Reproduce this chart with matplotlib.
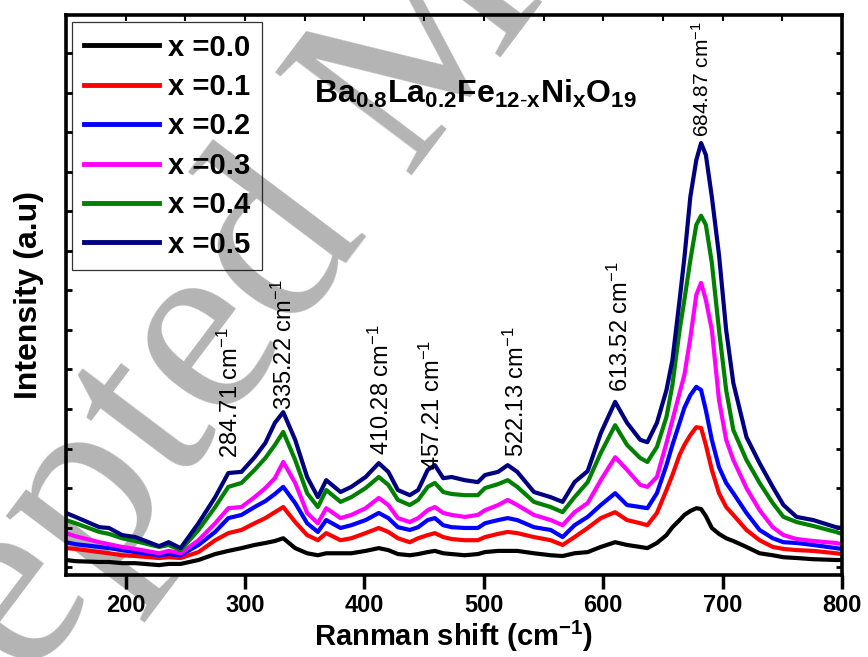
import matplotlib
matplotlib.use("Agg")
import matplotlib.pyplot as plt
import matplotlib.ticker as plticker

plt.rcParams['font.family'] = ['Liberation Sans', 'DejaVu Sans']
plt.rcParams['mathtext.fontset'] = 'custom'
plt.rcParams['mathtext.rm'] = 'Liberation Sans'
plt.rcParams['mathtext.bf'] = 'Liberation Sans:bold'
plt.rcParams['mathtext.it'] = 'Liberation Sans:italic'

# Raman shift (cm-1) and stacked intensities (a.u.) for each Ni content
shift = [150, 158, 178, 186, 197, 208, 228, 236, 246, 261,
         275, 286, 297, 308, 317, 325, 332, 342, 352, 361,
         368, 380, 389, 401, 412, 420, 428, 438, 445, 453,
         459, 466, 473, 484, 495, 501, 512, 520, 528, 542,
         556, 566, 576, 587, 598, 610, 620, 631, 637, 645,
         653, 658, 664, 668, 673, 678, 682, 686, 691, 697,
         703, 709, 720, 731, 742, 751, 762, 776, 795, 800]

x00 = [0.18, 0.15, 0.13, 0.13, 0.10, 0.10, 0.05, 0.08, 0.08, 0.18,
       0.33, 0.41, 0.48, 0.56, 0.61, 0.66, 0.73, 0.48, 0.35, 0.30,
       0.35, 0.35, 0.35, 0.41, 0.48, 0.43, 0.33, 0.30, 0.33, 0.38,
       0.41, 0.35, 0.33, 0.30, 0.33, 0.38, 0.41, 0.41, 0.41, 0.35,
       0.30, 0.28, 0.35, 0.38, 0.51, 0.63, 0.56, 0.51, 0.48, 0.61,
       0.81, 1.01, 1.19, 1.32, 1.42, 1.49, 1.47, 1.29, 0.99, 0.84,
       0.73, 0.66, 0.51, 0.35, 0.30, 0.25, 0.23, 0.20, 0.18, 0.18]

x01 = [0.48, 0.46, 0.38, 0.35, 0.30, 0.28, 0.23, 0.25, 0.23, 0.38,
       0.68, 0.86, 0.94, 1.11, 1.24, 1.39, 1.52, 1.14, 0.81, 0.68,
       0.86, 0.68, 0.73, 0.86, 0.99, 0.89, 0.73, 0.63, 0.73, 0.81,
       0.86, 0.76, 0.71, 0.68, 0.68, 0.76, 0.84, 0.89, 0.86, 0.76,
       0.68, 0.56, 0.76, 0.99, 1.24, 1.39, 1.19, 1.11, 1.06, 1.37,
       1.95, 2.33, 2.84, 3.09, 3.34, 3.54, 3.52, 3.09, 2.46, 1.87,
       1.52, 1.32, 0.94, 0.68, 0.51, 0.46, 0.43, 0.41, 0.35, 0.33]

x02 = [0.63, 0.58, 0.51, 0.48, 0.43, 0.38, 0.30, 0.33, 0.30, 0.56,
       0.89, 1.24, 1.32, 1.52, 1.67, 1.85, 2.03, 1.62, 1.11, 0.89,
       1.19, 0.99, 1.06, 1.19, 1.37, 1.24, 1.01, 0.94, 1.01, 1.19,
       1.24, 1.06, 1.01, 0.99, 0.99, 1.11, 1.19, 1.24, 1.19, 1.01,
       0.94, 0.76, 1.06, 1.27, 1.57, 1.87, 1.57, 1.52, 1.49, 1.87,
       2.58, 3.09, 3.65, 4.03, 4.35, 4.56, 4.48, 3.97, 3.22, 2.53,
       2.13, 1.87, 1.37, 0.94, 0.73, 0.63, 0.61, 0.56, 0.48, 0.46]

x03 = [0.86, 0.78, 0.63, 0.58, 0.51, 0.46, 0.35, 0.41, 0.35, 0.68,
       1.11, 1.49, 1.52, 1.77, 2.00, 2.25, 2.66, 2.13, 1.37, 1.11,
       1.49, 1.24, 1.32, 1.49, 1.75, 1.57, 1.24, 1.14, 1.24, 1.44,
       1.52, 1.37, 1.32, 1.27, 1.32, 1.44, 1.57, 1.70, 1.57, 1.32,
       1.19, 1.06, 1.39, 1.62, 2.20, 2.78, 2.46, 2.08, 2.03, 2.28,
       3.14, 3.72, 4.41, 4.86, 5.80, 6.89, 7.19, 6.76, 6.00, 4.23,
       3.22, 2.71, 2.00, 1.44, 1.01, 0.81, 0.71, 0.66, 0.61, 0.58]

x04 = [1.19, 1.11, 0.89, 0.84, 0.73, 0.66, 0.51, 0.56, 0.43, 0.94,
       1.52, 2.03, 2.13, 2.46, 2.76, 3.09, 3.42, 2.71, 1.87, 1.52,
       1.95, 1.65, 1.77, 2.00, 2.28, 2.08, 1.70, 1.57, 1.70, 2.03,
       2.13, 1.90, 1.85, 1.82, 1.82, 2.00, 2.10, 2.20, 2.03, 1.65,
       1.52, 1.39, 1.77, 2.15, 2.89, 3.59, 3.09, 2.76, 2.66, 3.04,
       3.80, 4.61, 6.00, 6.76, 7.77, 8.66, 8.89, 8.66, 7.70, 6.00,
       4.48, 3.47, 2.71, 2.13, 1.62, 1.27, 1.14, 1.04, 0.89, 0.84]

x05 = [1.37, 1.27, 1.01, 0.99, 0.81, 0.76, 0.53, 0.63, 0.48, 1.11,
       1.77, 2.38, 2.41, 2.78, 3.14, 3.65, 3.92, 3.22, 2.28, 1.77,
       2.20, 1.90, 2.03, 2.28, 2.63, 2.41, 1.95, 1.82, 1.95, 2.46,
       2.58, 2.25, 2.28, 2.20, 2.15, 2.33, 2.41, 2.58, 2.41, 1.90,
       1.77, 1.65, 2.15, 2.43, 3.39, 4.18, 3.65, 3.22, 3.16, 3.65,
       4.48, 5.24, 6.76, 7.82, 9.37, 10.30, 10.73, 10.43, 9.37, 7.90,
       6.00, 4.66, 3.29, 2.63, 2.03, 1.57, 1.27, 1.19, 1.01, 0.99]

series = [x00, x01, x02, x03, x04, x05]
labels = ['x =0.0', 'x =0.1', 'x =0.2', 'x =0.3', 'x =0.4', 'x =0.5']
colors = ['black', '#ff0000', '#0000ff', '#ff00ff', '#008000', '#000080']

# peak labels: text, x position, y position of label bottom, font size
peak_text = ['284.71', '335.22', '410.28', '457.21', '522.13', '613.52', '684.87']
peak_x = [288, 333, 414, 456.5, 527, 614, 683]
peak_y = [2.76, 3.97, 2.84, 2.46, 2.78, 4.43, 10.89]
peak_size = [17, 17, 17, 17, 17, 17, 15]

fig = plt.figure(figsize=(8.68, 6.57), dpi=100)
ax = fig.add_axes([0.076, 0.1248, 0.894, 0.8524])
ax.set_facecolor('none')

# journal watermark behind the plot
fig.text(-0.259, -0.553, 'Accepted Manuscript', family='Liberation Serif',
         fontsize=188, color='#b4b4b4', rotation=53, rotation_mode='anchor',
         ha='left', va='baseline', zorder=-10)

for ys, lab, c in zip(series, labels, colors):
    ax.plot(shift, ys, color=c, lw=3, label=lab, solid_joinstyle='round')

for t, px, py, fs in zip(peak_text, peak_x, peak_y, peak_size):
    ax.text(px, py, t + r' cm$^{-1}$', rotation=90, ha='center',
            va='bottom', fontsize=fs)

ax.text(357.5, 11.75, r'$\mathbf{Ba_{0.8}La_{0.2}Fe_{12\text{-}x}Ni_{x}O_{19}}$',
        fontsize=23, ha='left', va='baseline')

ax.set_xlim(150, 800)
ax.set_ylim(-0.2, 13.97)
ax.xaxis.set_major_locator(plticker.MultipleLocator(100))
ax.yaxis.set_major_locator(plticker.MultipleLocator(1))
ax.set_yticklabels([])
ax.tick_params(axis='x', which='major', direction='out', length=10, width=2.5,
               labelsize=17, pad=4)
ax.tick_params(axis='y', which='major', direction='in', length=4, width=2,
               right=True)
for lab in ax.get_xticklabels():
    lab.set_fontweight('bold')

# small inward ticks along the top edge
top = ax.secondary_xaxis('top')
top.xaxis.set_major_locator(plticker.MultipleLocator(50))
top.tick_params(direction='in', length=4, width=1.5, labeltop=False)
top.spines['top'].set_visible(False)

for s in ax.spines.values():
    s.set_linewidth(2.6)

ax.set_xlabel(r'Ranman shift (cm$^{\mathbf{-1}}$)', fontsize=21,
              fontweight='bold', labelpad=1)
ax.set_ylabel('Intensity (a.u)', fontsize=23, fontweight='bold', labelpad=12)

leg = ax.legend(loc='upper left', bbox_to_anchor=(0.0077, 0.9875),
                borderaxespad=0, fancybox=False, handlelength=2.6,
                handletextpad=0.3, labelspacing=0.39, borderpad=0.4,
                prop={'weight': 'bold', 'size': 21})
leg.get_frame().set_edgecolor('black')
leg.get_frame().set_linewidth(0.9)
leg.get_frame().set_facecolor('none')
for h in leg.get_lines():
    h.set_linewidth(3.5)

fig.savefig('out.png', dpi=100)
